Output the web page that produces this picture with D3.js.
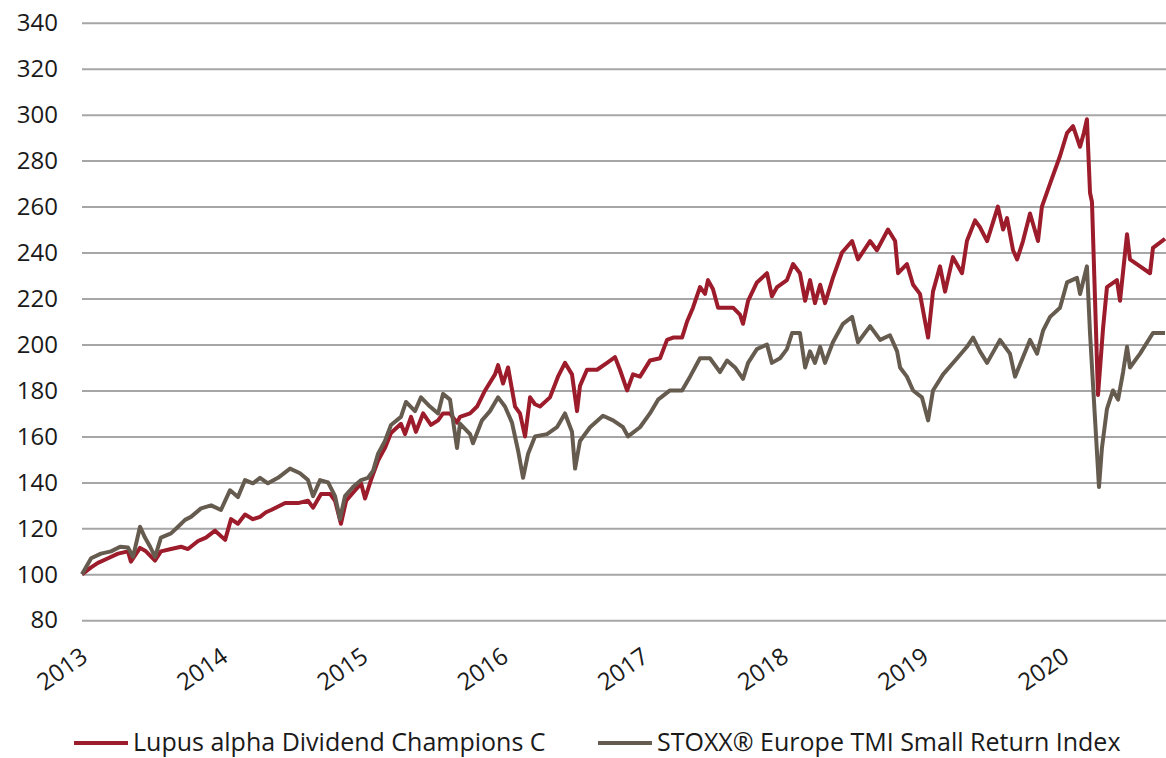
<!DOCTYPE html>
<html>
<head>
<meta charset="utf-8">
<script src="https://cdn.jsdelivr.net/npm/d3@7"></script>
<style>
  body { margin: 0; background: #fff; }
  text { font-family: "Open Sans", Lato, sans-serif; fill: #1a1a1a; }
</style>
</head>
<body>
<div id="chart"></div>
<script>
// year ticks and y ticks
const years = [2013, 2014, 2015, 2016, 2017, 2018, 2019, 2020];
const yTicks = [80, 100, 120, 140, 160, 180, 200, 220, 240, 260, 280, 300, 320, 340];
const seriesNames = ["Lupus alpha Dividend Champions C", "STOXX® Europe TMI Small Return Index"];

// Lupus alpha Dividend Champions C  [decimal year, value]
const lupus = [
  [2012.957, 100], [2013.022, 103], [2013.071, 105], [2013.143, 107], [2013.214, 109], [2013.285, 110],
  [2013.306, 105.5], [2013.371, 111.5], [2013.413, 110], [2013.478, 106], [2013.520, 110], [2013.592, 111],
  [2013.664, 112], [2013.713, 111], [2013.785, 114.5], [2013.841, 116], [2013.906, 119], [2013.978, 115],
  [2014.020, 124], [2014.069, 122], [2014.120, 126], [2014.176, 124], [2014.227, 125], [2014.269, 127],
  [2014.306, 128], [2014.406, 131], [2014.498, 131], [2014.569, 132], [2014.605, 129], [2014.662, 135],
  [2014.726, 135], [2014.762, 132], [2014.804, 122], [2014.841, 132], [2014.904, 136.5], [2014.948, 139.5],
  [2014.976, 133], [2015.018, 141], [2015.069, 149.5], [2015.118, 155], [2015.161, 161.5], [2015.232, 165.5],
  [2015.261, 161], [2015.304, 168.5], [2015.339, 162], [2015.390, 170], [2015.446, 165], [2015.497, 167],
  [2015.532, 170], [2015.582, 170], [2015.632, 166], [2015.653, 168.5], [2015.725, 170], [2015.775, 173],
  [2015.832, 180], [2015.903, 187], [2015.925, 191], [2015.960, 183], [2015.996, 190], [2016.046, 173],
  [2016.081, 170], [2016.117, 160], [2016.153, 177], [2016.188, 174], [2016.224, 173], [2016.295, 177],
  [2016.352, 186], [2016.402, 192], [2016.452, 187], [2016.488, 171], [2016.509, 182], [2016.559, 189],
  [2016.631, 189], [2016.702, 192], [2016.759, 194.5], [2016.794, 189], [2016.845, 180], [2016.887, 187],
  [2016.937, 186], [2017.008, 193], [2017.080, 194], [2017.130, 202], [2017.173, 203], [2017.237, 203],
  [2017.273, 210], [2017.315, 216], [2017.365, 225], [2017.401, 222], [2017.422, 228], [2017.458, 224],
  [2017.494, 216], [2017.529, 216], [2017.601, 216], [2017.650, 213], [2017.672, 209], [2017.708, 219],
  [2017.771, 227], [2017.843, 231], [2017.878, 221], [2017.915, 225], [2017.985, 228], [2018.029, 235],
  [2018.078, 231], [2018.115, 219], [2018.150, 228], [2018.185, 218], [2018.222, 226], [2018.257, 218],
  [2018.313, 229], [2018.378, 240], [2018.450, 245], [2018.492, 237], [2018.578, 245], [2018.627, 241],
  [2018.706, 250], [2018.757, 245], [2018.778, 231], [2018.841, 235], [2018.885, 226], [2018.934, 222],
  [2018.992, 203], [2019.027, 223], [2019.077, 234], [2019.113, 223], [2019.169, 238], [2019.234, 231],
  [2019.269, 245], [2019.327, 254], [2019.362, 251], [2019.413, 245], [2019.490, 260], [2019.527, 250],
  [2019.555, 255], [2019.598, 241], [2019.627, 237], [2019.669, 245], [2019.719, 257], [2019.776, 245],
  [2019.804, 260], [2019.862, 270], [2019.933, 282], [2019.983, 292], [2020.026, 295], [2020.076, 286],
  [2020.103, 292], [2020.125, 298], [2020.147, 266], [2020.161, 262], [2020.204, 178], [2020.240, 207],
  [2020.268, 225], [2020.339, 228], [2020.361, 219], [2020.411, 248], [2020.432, 237], [2020.504, 234],
  [2020.575, 231], [2020.596, 242], [2020.682, 246]
];

// STOXX Europe TMI Small Return Index  [decimal year, value]
const stoxx = [
  [2012.957, 100], [2013.022, 107], [2013.092, 109], [2013.164, 110], [2013.229, 112], [2013.285, 111.7],
  [2013.321, 107.6], [2013.371, 120.7], [2013.406, 116], [2013.443, 112], [2013.478, 107.6], [2013.520, 116],
  [2013.592, 117.8], [2013.642, 120.7], [2013.692, 123.7], [2013.734, 125], [2013.806, 128.7], [2013.878, 130],
  [2013.948, 128], [2014.013, 136.6], [2014.069, 133.6], [2014.120, 141], [2014.176, 139.6], [2014.227, 142],
  [2014.283, 139.6], [2014.355, 142], [2014.441, 146], [2014.512, 144], [2014.569, 141], [2014.605, 134],
  [2014.655, 141], [2014.712, 140], [2014.762, 134], [2014.797, 124], [2014.833, 134], [2014.890, 138],
  [2014.948, 141], [2014.997, 142], [2015.033, 145], [2015.069, 152.5], [2015.118, 158], [2015.161, 165],
  [2015.232, 168.5], [2015.268, 175], [2015.332, 171], [2015.375, 177], [2015.439, 173], [2015.497, 170],
  [2015.532, 178.5], [2015.582, 176], [2015.632, 155], [2015.653, 165.6], [2015.725, 161], [2015.746, 157],
  [2015.810, 167], [2015.867, 171], [2015.925, 177], [2015.974, 173], [2016.024, 166], [2016.067, 154],
  [2016.103, 142], [2016.139, 152.5], [2016.188, 160], [2016.274, 161], [2016.345, 164], [2016.402, 170],
  [2016.452, 162], [2016.474, 146], [2016.509, 158], [2016.581, 164], [2016.673, 169], [2016.745, 167],
  [2016.816, 164], [2016.852, 160], [2016.937, 164], [2017.008, 170], [2017.066, 176], [2017.151, 180],
  [2017.237, 180], [2017.294, 186], [2017.365, 194], [2017.436, 194], [2017.508, 188], [2017.558, 193],
  [2017.615, 190], [2017.672, 185], [2017.708, 192], [2017.771, 198], [2017.843, 200], [2017.878, 192],
  [2017.936, 194], [2017.985, 198], [2018.022, 205], [2018.078, 205], [2018.115, 190], [2018.150, 197],
  [2018.185, 192], [2018.222, 199], [2018.257, 192], [2018.313, 201], [2018.385, 209], [2018.450, 212],
  [2018.492, 201], [2018.578, 208], [2018.650, 202], [2018.720, 204], [2018.771, 197], [2018.792, 190],
  [2018.841, 186], [2018.885, 180], [2018.948, 177], [2018.992, 167], [2019.027, 180], [2019.099, 187],
  [2019.199, 194], [2019.269, 199], [2019.313, 203], [2019.362, 197], [2019.413, 192], [2019.505, 202],
  [2019.576, 196], [2019.612, 186], [2019.719, 202], [2019.769, 196], [2019.812, 206], [2019.862, 212],
  [2019.933, 216], [2019.983, 227], [2020.054, 229], [2020.076, 222], [2020.125, 234], [2020.147, 205],
  [2020.211, 138], [2020.232, 155], [2020.268, 172], [2020.311, 180], [2020.347, 176], [2020.383, 188],
  [2020.411, 199], [2020.432, 190], [2020.504, 196], [2020.596, 205], [2020.682, 205]
];

const colors = ["#9c1c2c", "#665b4f"];

const width = 1166;
const height = 758;
const margin = { top: 22.7, right: 0, bottom: 137.7, left: 82 };

const svg = d3.select("#chart")
  .append("svg")
  .attr("width", width)
  .attr("height", height);

const x = d3.scaleLinear()
  .domain([2012.957, 2020.689])
  .range([margin.left, width - margin.right]);

const y = d3.scaleLinear()
  .domain([80, 340])
  .range([height - margin.bottom, margin.top]);

// grid lines + y labels
svg.append("g")
  .attr("transform", `translate(${margin.left},0)`)
  .call(d3.axisLeft(y).tickValues(yTicks).tickSize(-(width - margin.left - margin.right)).tickPadding(24))
  .call(g => g.select(".domain").remove())
  .call(g => g.selectAll(".tick line").attr("stroke", "#a6a6a6").attr("stroke-width", 2))
  .call(g => g.selectAll(".tick text")
    .attr("font-size", 24)
    .attr("font-family", "'Open Sans', sans-serif")
    .attr("fill", "#1a1a1a"));

// x labels, rotated
svg.append("g")
  .selectAll("text")
  .data(years)
  .join("text")
  .attr("transform", d => `translate(${x(d) - 9},${height - margin.bottom + 25}) rotate(-35)`)
  .attr("text-anchor", "end")
  .attr("dy", "0.75em")
  .attr("font-size", 24)
  .text(d => d);

const line = d3.line()
  .x(d => x(d[0]))
  .y(d => y(d[1]));

// Lines (fund first, index on top)
[lupus, stoxx].forEach((s, i) => {
  svg.append("path")
    .datum(s)
    .attr("fill", "none")
    .attr("stroke", colors[i])
    .attr("stroke-width", 4)
    .attr("stroke-linejoin", "round")
    .attr("d", line);
});

// Legend
const legendX = [74, 598];
const legend = svg.append("g").attr("transform", "translate(0,742)");
seriesNames.forEach((name, i) => {
  legend.append("line")
    .attr("x1", legendX[i]).attr("x2", legendX[i] + 54)
    .attr("y1", 1).attr("y2", 1)
    .attr("stroke", colors[i])
    .attr("stroke-width", 4);
  legend.append("text")
    .attr("x", legendX[i] + 59)
    .attr("y", 0)
    .attr("dy", "0.35em")
    .attr("font-size", 25)
    .text(name);
});
</script>
</body>
</html>
